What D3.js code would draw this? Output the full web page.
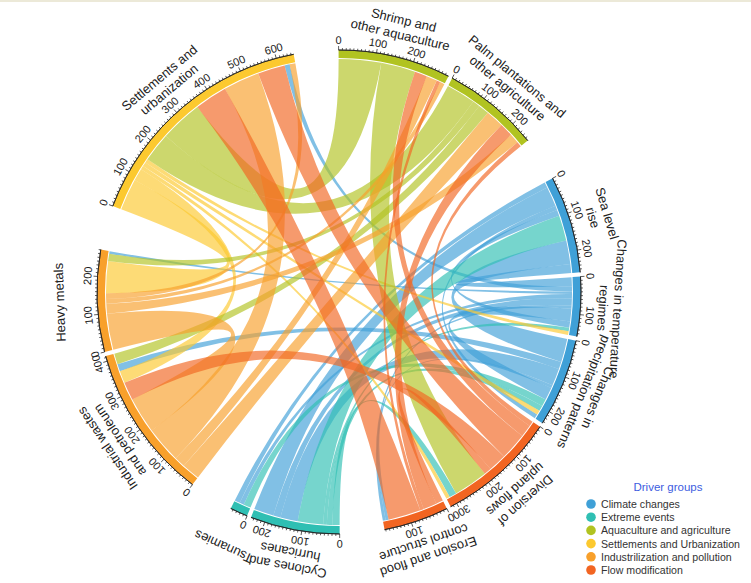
<!DOCTYPE html>
<html><head><meta charset="utf-8">
<script src="https://cdn.jsdelivr.net/npm/d3@7"></script>
<style>body{margin:0;background:#fff;} text{font-family:"Liberation Sans",Arial,sans-serif;}</style>
</head><body><svg id="c" width="751" height="583"></svg>
<script>
// ---- data ----
const sectors = ["SU","SH","PA","SL","TE","PR","DI","ER","CY","TS","IW","HM"];
const sectorNames = [["Settlements and","urbanization"],["Shrimp and","other aquaculture"],["Palm plantations and","other agriculture"],["Sea level","rise"],["Changes in temperature","regimes"],["Changes in","precipitation patterns"],["Diversion of","upland flows"],["Erosion and flood","control structure"],["Cyclones and","hurricanes"],["Tsunamies"],["Industrial wastes","and petroleum"],["Heavy metals"]];
const sectorGroup = ["Settlements","Aquaculture","Aquaculture","Climate","Climate","Climate","Flow","Flow","Extreme","Extreme","Industrial","Industrial"];
const gapAfter = [10.7,1,10.7,1,1,1,1,10.7,1,10.7,1,10.7];
const startAngleDeg = 290.8;

const groupKeys = ["Climate","Extreme","Aquaculture","Settlements","Industrial","Flow"];
const groupLabels = ["Climate changes","Extreme events","Aquaculture and agriculture","Settlements and Urbanization","Industrilization and pollution","Flow modification"];
const groupColors = ["#3fa0d7","#2fbfb3","#b1c321","#fcc92f","#f8a02b","#f26522"];

const linkFrom  = ["SL","SL","SL","SL","TE","TE","TE","TE","TE","TE","TE","PR","PR","PR","PR",
                   "CY","CY","CY","CY","TS",
                   "SU","SU","SU","SU","SU",
                   "SH","SH","PA","PA","PA",
                   "IW","IW","IW","IW","HM","HM","HM",
                   "DI","DI","DI","DI","DI","ER","ER","ER"];
const linkTo    = ["CY","TS","PR","TE","SL","SU","HM","TS","CY","ER","PR","SL","IW","CY","ER",
                   "DI","PR","TE","SL","PR",
                   "HM","IW","DI","PR","TE",
                   "SU","DI","SU","HM","IW",
                   "HM","PA","SH","SU","PA","SH","SU",
                   "PA","SH","SU","IW","ER","PA","SH","SU"];
const linkValue = [55,15,12,17,25,14,7,12,20,8,35,65,20,48,8,
                   20,15,10,70,20,
                   88,34,10,12,10,
                   117,95,81,20,30,
                   100,50,30,100,27,13,16,
                   14,34,75,50,20,37,10,90];

const sectorOrder = {
  SU:["SU>HM","SU>IW","SU>DI","SU>PR","SU>TE","PA>SU","SH>SU","ER>SU","IW>SU","DI>SU","TE>SU","HM>SU"],
  SH:["SH>SU","SH>DI","DI>SH","IW>SH","ER>SH","HM>SH"],
  PA:["PA>SU","PA>HM","PA>IW","IW>PA","ER>PA","HM>PA","DI>PA"],
  SL:["SL>TS","SL>CY","SL>PR","SL>TE","CY>SL","PR>SL","TE>SL"],
  TE:["TE>SL","TE>SU","TE>HM","TE>TS","TE>CY","TE>ER","TE>PR","SL>TE","CY>TE","SU>TE"],
  PR:["PR>SL","PR>IW","PR>CY","PR>ER","TE>PR","TS>PR","CY>PR","SU>PR","SL>PR"],
  DI:["DI>PA","DI>SH","DI>SU","DI>IW","DI>ER","SH>DI","CY>DI","SU>DI"],
  ER:["DI>ER","ER>PA","ER>SH","ER>SU","PR>ER","TE>ER"],
  CY:["CY>DI","CY>PR","CY>TE","CY>SL","PR>CY","TE>CY","SL>CY"],
  TS:["TS>PR","TE>TS","SL>TS"],
  IW:["IW>PA","IW>SH","IW>SU","IW>HM","DI>IW","SU>IW","PR>IW","PA>IW"],
  HM:["IW>HM","HM>PA","HM>SH","HM>SU","SU>HM","PA>HM","TE>HM"]
};

// ---- layout ----
const svg = d3.select("#c");
svg.append("rect").attr("x",0).attr("y",0).attr("width",751).attr("height",2).attr("fill","#ece9d8");
const cx = 339, cy = 292;
const g = svg.append("g").attr("transform",`translate(${cx},${cy})`);
const R_in = 234, R_out = 242, R_rib = 233;
const toRad = d => d*Math.PI/180;
const color = d3.scaleOrdinal().domain(groupKeys).range(groupColors);

const keyOf = i => linkFrom[i] + ">" + linkTo[i];
const linkIdx = new Map(linkFrom.map((f,i)=>[keyOf(i), i]));
const totals = sectors.map(s => d3.sum(sectorOrder[s], k => linkValue[linkIdx.get(k)]));
const degPerUnit = (360 - d3.sum(gapAfter)) / d3.sum(totals);

const scales = {};
let a = startAngleDeg;
sectors.forEach((s,i) => {
  const a0 = a, a1 = a + totals[i]*degPerUnit;
  scales[s] = d3.scaleLinear().domain([0, totals[i]]).range([a0, a1]);
  a = a1 + gapAfter[i];
});

const ends = {};
sectors.forEach(s => {
  let u = 0;
  sectorOrder[s].forEach(k => {
    const v = linkValue[linkIdx.get(k)];
    ends[s + "|" + k] = [u, u+v];
    u += v;
  });
});

const ribbon = d3.ribbon().radius(R_rib);
const chords = linkFrom.map((f,i) => {
  const k = keyOf(i), t = linkTo[i];
  const se = ends[f+"|"+k], te = ends[t+"|"+k];
  return {
    key: k,
    group: sectorGroup[sectors.indexOf(f)],
    source: {startAngle: toRad(scales[f](se[0])), endAngle: toRad(scales[f](se[1]))},
    target: {startAngle: toRad(scales[t](te[0])), endAngle: toRad(scales[t](te[1]))}
  };
});

g.append("g").selectAll("path").data(chords).join("path")
  .attr("d", ribbon)
  .attr("fill", d => color(d.group))
  .attr("fill-opacity", 0.66)
  .attr("stroke", "none");

// tracks, axes, labels
const arc = d3.arc().innerRadius(R_in).outerRadius(R_out);
const trackG = g.append("g");
sectors.forEach((s,i) => {
  const [a0,a1] = scales[s].range();
  trackG.append("path")
    .attr("d", arc({startAngle: toRad(a0), endAngle: toRad(a1)}))
    .attr("fill", color(sectorGroup[i]));
  trackG.append("path")
    .attr("d", d3.arc().innerRadius(R_out).outerRadius(R_out)({startAngle: toRad(a0), endAngle: toRad(a1)}))
    .attr("fill","none").attr("stroke","#222").attr("stroke-width",0.8);
  const ticks = d3.range(0, totals[i] + 0.001, 10);
  ticks.forEach(v => {
    const ang = scales[s](v);
    const major = v % 100 === 0;
    trackG.append("line")
      .attr("transform", `rotate(${ang})`)
      .attr("x1",0).attr("x2",0)
      .attr("y1", -R_out).attr("y2", -(R_out + (major ? 4 : 2)))
      .attr("stroke","#222").attr("stroke-width",0.7);
    if (major) {
      trackG.append("text")
        .attr("transform", `rotate(${ang})`)
        .attr("x",0).attr("y", -(R_out + 6))
        .attr("text-anchor","middle")
        .attr("font-size", 11).attr("fill","#222")
        .text(v);
    }
  });
  const mid = (a0 + a1)/2;
  sectorNames[i].forEach((line, j) => {
    trackG.append("text")
      .attr("transform", `rotate(${mid})`)
      .attr("x",0).attr("y", -(275 - 15*j))
      .attr("text-anchor","middle")
      .attr("font-size", 13).attr("fill","#222")
      .text(line);
  });
});

// legend
const lg = svg.append("g");
lg.append("text").attr("x",668).attr("y",491).attr("text-anchor","middle")
  .attr("font-size",11.5).attr("fill","#3d5ce0").text("Driver groups");
groupLabels.forEach((lab,i) => {
  const y = 504 + i*13.2;
  lg.append("circle").attr("cx",591).attr("cy",y).attr("r",4.8).attr("fill",groupColors[i]);
  lg.append("text").attr("x",601).attr("y",y+4).attr("font-size",10.6).attr("fill","#333").text(lab);
});
</script></body></html>
